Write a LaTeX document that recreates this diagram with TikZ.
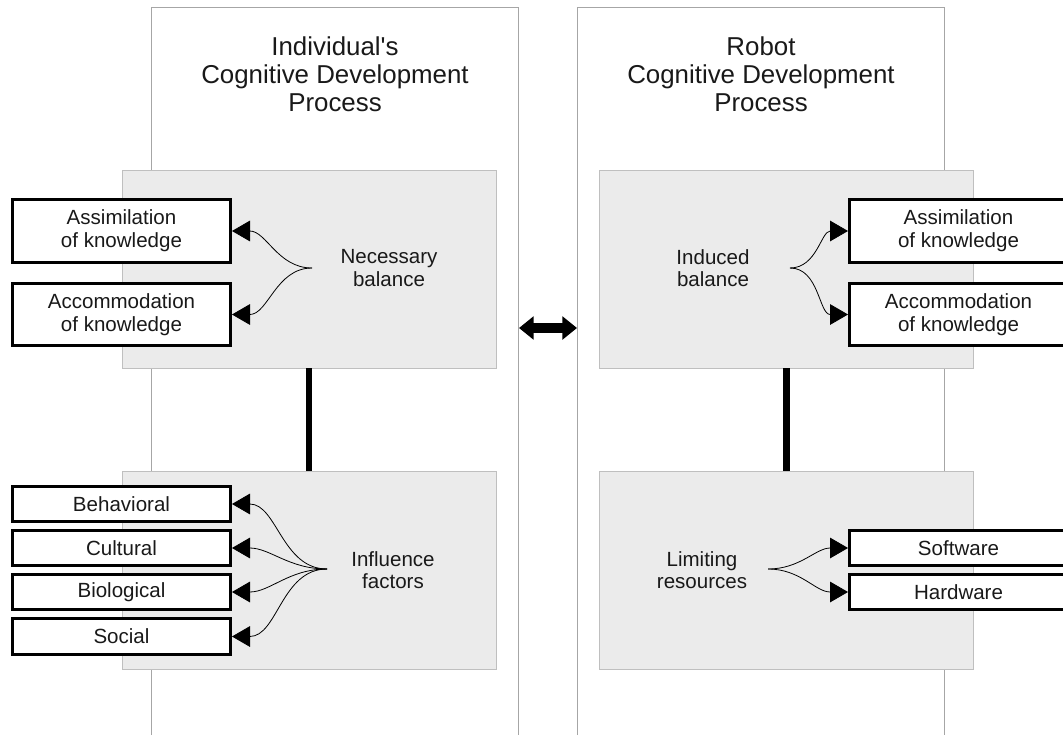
\documentclass[tikz,border=0pt]{standalone}
\usepackage{fontspec}
\setmainfont{Liberation Sans}
\usetikzlibrary{arrows.meta}
\begin{document}
\begin{tikzpicture}[x=0.75pt,y=-0.75pt,
    column/.style={draw=black!35,line width=0.75pt},
    panel/.style={draw=black!25,fill=black!8,line width=0.75pt,minimum width=280.5pt,minimum height=148.5pt,inner sep=0pt,outer sep=0pt},
    item/.style={draw=black,fill=white,line width=2.25pt,minimum width=163.5pt,align=center,text=black!90,font=\fontsize{15.4}{17}\selectfont},
    twoline/.style={item,minimum height=47pt},
    oneline/.style={item,minimum height=26.5pt},
    label/.style={align=center,text=black!90,font=\fontsize{15.4}{17}\selectfont},
    title/.style={align=center,text=black!90,font=\fontsize{19.4}{21}\selectfont},
    fan/.style={line width=0.6pt,-{Triangle[length=13.5pt,width=15.5pt]}},
    bar/.style={line width=5pt}]
    \useasboundingbox (0,0) rectangle (1063,735);
    \draw[column] (151,735) -- (151,8) -- (518,8) -- (518,735);
    \draw[column] (577,735) -- (577,8) -- (944,8) -- (944,735);
    \node[title] (ltitle) at (335,74) {Individual\textquotesingle s\\Cognitive Development\\Process};
    \node[title] (rtitle) at (761,74) {Robot\\Cognitive Development\\Process};

    \node[panel] (ltop) at (309,269) {};
    \node[panel] (lbot) at (309,570) {};
    \node[panel] (rtop) at (786.5,269) {};
    \node[panel] (rbot) at (786.5,570) {};
    \draw[bar] (ltop.south) -- (lbot.north);
    \draw[bar] (rtop.south) -- (rbot.north);

    \node[label] (necessary) at (389,268) {Necessary\\balance};
    \node[label] (influence) at (393,570) {Influence\\factors};
    \node[label] (induced) at (713,268) {Induced\\balance};
    \node[label] (limiting) at (702,570) {Limiting\\resources};
    \coordinate (nroot) at (312,268);
    \coordinate (froot) at (327,569);
    \coordinate (iroot) at (790,268);
    \coordinate (lroot) at (768,569);

    \node[twoline] (lassim) at (121.5,231) {Assimilation\\of knowledge};
    \node[twoline] (laccom) at (121.5,314.5) {Accommodation\\of knowledge};
    \node[oneline] (behav) at (121.5,504) {Behavioral};
    \node[oneline] (cult) at (121.5,548) {Cultural};
    \node[oneline] (bio) at (121.5,592) {Biological};
    \node[oneline] (soc) at (121.5,636.5) {Social};
    \node[twoline] (rassim) at (958.5,231) {Assimilation\\of knowledge};
    \node[twoline] (raccom) at (958.5,314.5) {Accommodation\\of knowledge};
    \node[oneline] (soft) at (958.5,548) {Software};
    \node[oneline] (hard) at (958.5,592) {Hardware};

    \draw[fan] (nroot) to[out=180,in=0] (lassim.east);
    \draw[fan] (nroot) to[out=180,in=0] (laccom.east);
    \foreach \f in {behav,cult,bio,soc}
        \draw[fan] (froot) to[out=180,in=0] (\f.east);
    \draw[fan] (iroot) to[out=0,in=180] (rassim.west);
    \draw[fan] (iroot) to[out=0,in=180] (raccom.west);
    \draw[fan] (lroot) to[out=0,in=180] (soft.west);
    \draw[fan] (lroot) to[out=0,in=180] (hard.west);

    \coordinate (lgap) at (519,328);
    \coordinate (rgap) at (577,328);
    \draw[line width=7pt,{Triangle[length=11pt,width=17pt]}-{Triangle[length=11pt,width=17pt]}] (lgap) -- (rgap);
\end{tikzpicture}
\end{document}
